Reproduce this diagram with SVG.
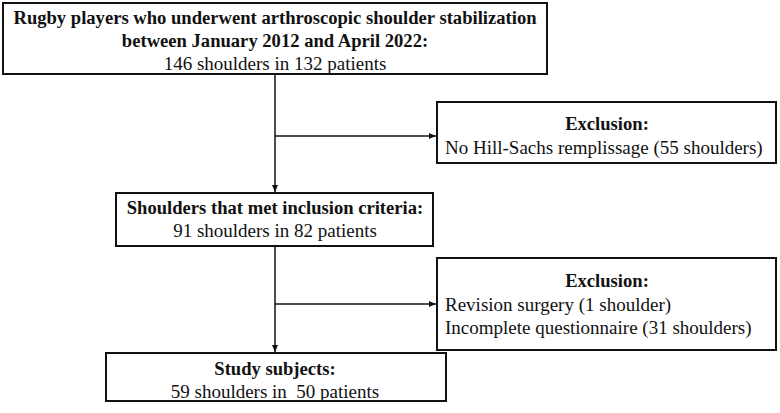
<svg xmlns="http://www.w3.org/2000/svg" width="780" height="413" viewBox="0 0 780 413">
<defs>
<style>
.box{fill:#fff;stroke:#111;stroke-width:2}
.t{font-family:"Liberation Serif","Times New Roman",serif;font-size:19px;fill:#111}
.b{font-weight:bold;font-size:18.6px}
.c{text-anchor:middle}
.ln{stroke:#111;stroke-width:1.5;fill:none}
</style>
<marker id="ah" markerWidth="8" markerHeight="8" refX="7" refY="4" orient="auto" markerUnits="userSpaceOnUse">
<path d="M0,1 L7,4 L0,7 Z" fill="#111"/>
</marker>
</defs>
<g id="connectors">
<line class="ln" x1="275" y1="74" x2="275" y2="192" marker-end="url(#ah)"/>
<line class="ln" x1="275" y1="136" x2="436" y2="136" marker-end="url(#ah)"/>
<line class="ln" x1="275" y1="246" x2="275" y2="352" marker-end="url(#ah)"/>
<line class="ln" x1="275" y1="304" x2="436" y2="304" marker-end="url(#ah)"/>
</g>
<g id="n1">
<rect class="box" x="3" y="3" width="544" height="71"/>
<text class="t b c" x="275" y="24">Rugby players who underwent arthroscopic shoulder stabilization</text>
<text class="t b c" x="275" y="47">between January 2012 and April 2022:</text>
<text class="t c" x="275" y="70">146 shoulders in 132 patients</text>
</g>
<g id="ex1">
<rect class="box" x="437" y="102" width="339" height="61"/>
<text class="t b c" x="607" y="130">Exclusion:</text>
<text class="t" x="445" y="154">No Hill-Sachs remplissage (55 shoulders)</text>
</g>
<g id="n2">
<rect class="box" x="116" y="193" width="317" height="53"/>
<text class="t b c" x="275" y="214">Shoulders that met inclusion criteria:</text>
<text class="t c" x="275" y="237">91 shoulders in 82 patients</text>
</g>
<g id="ex2">
<rect class="box" x="437" y="258" width="339" height="92"/>
<text class="t b c" x="607" y="287">Exclusion:</text>
<text class="t" x="445" y="311">Revision surgery (1 shoulder)</text>
<text class="t" x="445" y="334">Incomplete questionnaire (31 shoulders)</text>
</g>
<g id="n3">
<rect class="box" x="106" y="353" width="340" height="48"/>
<text class="t b c" x="275" y="375">Study subjects:</text>
<text class="t c" x="275" y="398" xml:space="preserve">59 shoulders in  50 patients</text>
</g>
</svg>
